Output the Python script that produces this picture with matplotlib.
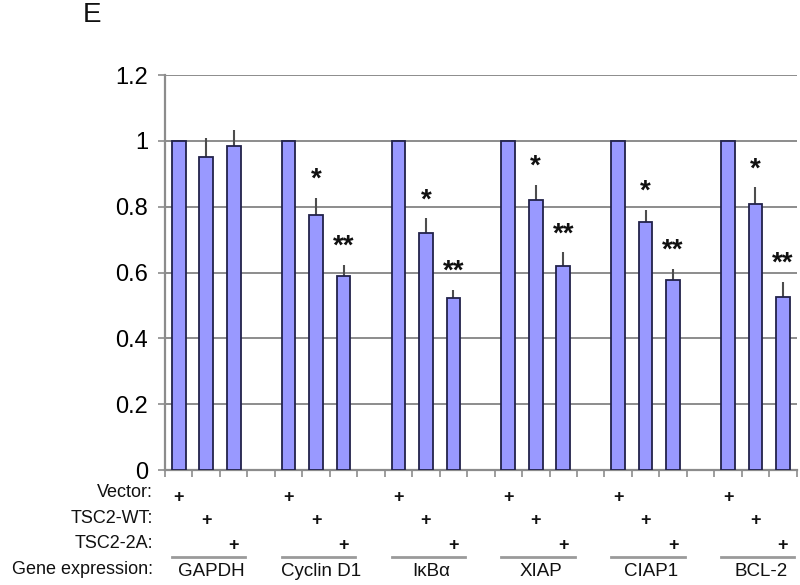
import matplotlib
matplotlib.use("Agg")
import matplotlib.pyplot as plt
import numpy as np

genes = ["GAPDH", "Cyclin D1", "IκBα", "XIAP", "CIAP1", "BCL-2"]
vector_vals = [1.0, 1.0, 1.0, 1.0, 1.0, 1.0]
wt_vals = [0.95, 0.776, 0.719, 0.821, 0.753, 0.808]
a2_vals = [0.983, 0.59, 0.522, 0.621, 0.578, 0.527]
vector_err = [0.0, 0.0, 0.0, 0.0, 0.0, 0.0]
wt_err = [0.06, 0.05, 0.046, 0.045, 0.037, 0.051]
a2_err = [0.05, 0.033, 0.025, 0.04, 0.033, 0.045]
wt_marks = ["", "*", "*", "*", "*", "*"]
a2_marks = ["", "**", "**", "**", "**", "**"]
row_labels = ["Vector:", "TSC2-WT:", "TSC2-2A:"]
yticks = [0, 0.2, 0.4, 0.6, 0.8, 1.0, 1.2]
ytick_labels = ["0", "0.2", "0.4", "0.6", "0.8", "1", "1.2"]

plt.rcParams['font.family'] = ['Liberation Sans', 'DejaVu Sans']

fig = plt.figure(figsize=(8, 5.85), dpi=100)
ax = fig.add_axes([0.20625, 0.19658, 0.7896, 0.6752])

series = [(vector_vals, vector_err), (wt_vals, wt_err), (a2_vals, a2_err)]
bar_color = "#9999ff"
edge_color = "#22224a"
grid_color = "#8c8c8c"

for i, (vals, errs) in enumerate(series):
    x = np.arange(len(genes)) * 4 + i
    ax.bar(x, vals, width=0.5, color=bar_color, edgecolor=edge_color,
           linewidth=1.3, zorder=3)
    errs_arr = np.array(errs)
    has = errs_arr > 0
    if has.any():
        ax.errorbar(x[has], np.array(vals)[has],
                    yerr=[np.zeros(has.sum()), errs_arr[has]],
                    fmt='none', ecolor="#4d4d4d", elinewidth=1.5, capsize=0, zorder=2)

# significance marks
for g in range(len(genes)):
    for i, (vals, errs, marks) in enumerate([(wt_vals, wt_err, wt_marks), (a2_vals, a2_err, a2_marks)], start=1):
        if marks[g]:
            ax.annotate(marks[g], xy=(g * 4 + i, vals[g] + errs[g]),
                        xytext=(0, 13), textcoords='offset points',
                        ha='center', va='center', fontsize=20, fontweight='bold',
                        color='#111111', zorder=5)

ax.set_xlim(-0.5, len(genes) * 4 - 1.5)
ax.set_ylim(0, 1.2)
ax.set_yticks(yticks)
ax.set_yticklabels(ytick_labels, fontsize=17)
ax.set_xticks(np.arange(-0.5, len(genes) * 4 - 1, 1.0))
ax.set_xticklabels([])
ax.tick_params(axis='y', direction='out', length=5, width=1.2, color=grid_color, pad=7)
ax.tick_params(axis='x', direction='out', length=5, width=1.2, color=grid_color)

ax.yaxis.grid(True, color=grid_color, linewidth=1.4, zorder=0)
ax.set_axisbelow(True)
for s in ['top', 'right']:
    ax.spines[s].set_visible(False)
for s in ['left', 'bottom']:
    ax.spines[s].set_color(grid_color)
    ax.spines[s].set_linewidth(1.6)

tr = ax.get_xaxis_transform()
# plus rows
plus_y = [-0.0684, -0.129, -0.192]
label_y = [-0.058, -0.124, -0.185]
for i in range(3):
    ax.text(-0.019, label_y[i], row_labels[i], transform=ax.transAxes,
            ha='right', va='center', fontsize=13, color='#111111')
    for g in range(len(genes)):
        ax.text(g * 4 + i, plus_y[i], "+", transform=tr, ha='center', va='center',
                fontsize=13, fontweight='bold', color='#111111', clip_on=False)

ax.text(-0.019, -0.251, "Gene expression:", transform=ax.transAxes,
        ha='right', va='center', fontsize=13, color='#111111')
for g, name in enumerate(genes):
    ax.plot([g * 4 - 0.25, g * 4 + 2.42], [-0.220, -0.220], transform=tr,
            color='#9a9a9a', linewidth=2, clip_on=False)
    ax.text(g * 4 + 1.2, -0.257, name, transform=tr, ha='center', va='center',
            fontsize=13.5, color='#111111')

fig.text(92 / 800, 1 - 15 / 585, "E", ha='center', va='center', fontsize=20, color='#111111')

fig.savefig("out.png", dpi=100)
